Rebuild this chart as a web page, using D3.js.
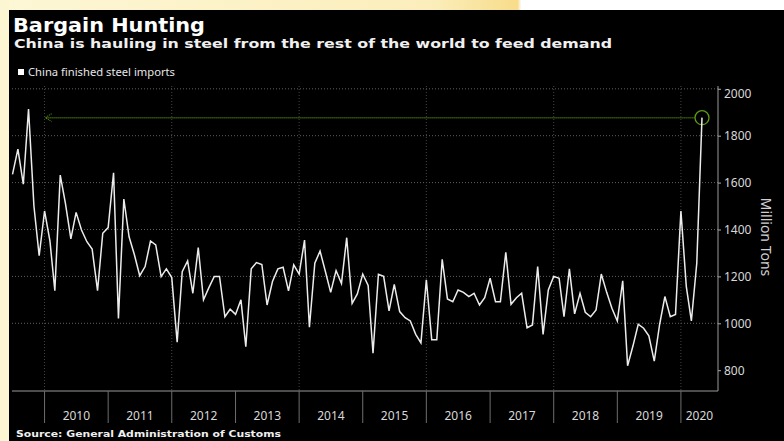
<!DOCTYPE html>
<html>
<head>
<meta charset="utf-8">
<script src="https://cdn.jsdelivr.net/npm/d3@7"></script>
<style>
  html, body { margin: 0; padding: 0; background: #fff; }
  svg { display: block; }
</style>
</head>
<body>
<div id="chart"></div>
<script>
// monthly imports, Jul 2009 .. May 2020 (axis says "Million Tons" as on the original)
const startMonth = new Date(2009, 6, 1);
const imports = [
  1635, 1743, 1593, 1914, 1500, 1288,
  1479, 1350, 1139, 1632, 1510, 1360, 1473, 1398, 1348, 1317, 1139, 1384,
  1408, 1642, 1021, 1530, 1369, 1291, 1203, 1242, 1351, 1334, 1199, 1232,
  1195, 919, 1220, 1266, 1128, 1323, 1100, 1152, 1200, 1200, 1028, 1060,
  1038, 1100, 900, 1232, 1259, 1251, 1078, 1178, 1232, 1239, 1138, 1249,
  1210, 1355, 983, 1256, 1308, 1220, 1132, 1225, 1170, 1365, 1085, 1125,
  1210, 1161, 872, 1209, 1200, 1053, 1166, 1050, 1024, 1010, 953, 916,
  1185, 930, 930, 1273, 1104, 1092, 1142, 1132, 1114, 1128, 1078, 1109,
  1192, 1092, 1092, 1303, 1081, 1109, 1128, 981, 993, 1242, 953, 1142,
  1200, 1192, 1028, 1232, 1040, 1128, 1047, 1028, 1057, 1210, 1132, 1064,
  1010, 1181, 819, 904, 996, 979, 947, 839, 996, 1114, 1028, 1038,
  1479, 1156, 1010, 1256, 1877
];
const years = [2010, 2011, 2012, 2013, 2014, 2015, 2016, 2017, 2018, 2019, 2020];
const gridYears = [2010, 2012, 2014, 2016, 2018, 2020];
const yTicks = [800, 1000, 1200, 1400, 1600, 1800, 2000];
const yGrid = [1000, 1200, 1400, 1600, 1800, 2000];
const annotationFrom = new Date(2010, 0, 1);

const data = imports.map((v, i) => ({ date: d3.timeMonth.offset(startMonth, i), value: v }));

const W = 784, H = 441;
const svg = d3.select("#chart").append("svg")
  .attr("width", W)
  .attr("height", H);

// page bits around the cropped screenshot
const grad = svg.append("defs").append("linearGradient")
  .attr("id", "cream").attr("x1", 0).attr("x2", 1);
grad.append("stop").attr("offset", "0%").attr("stop-color", "#fdf7d6");
grad.append("stop").attr("offset", "55%").attr("stop-color", "#fbeebb");
grad.append("stop").attr("offset", "66%").attr("stop-color", "#f7dc8a");
grad.append("stop").attr("offset", "66.5%").attr("stop-color", "#ffffff");
grad.append("stop").attr("offset", "100%").attr("stop-color", "#ffffff");
svg.append("rect").attr("width", W).attr("height", H).attr("fill", "url(#cream)");
svg.append("rect").attr("x", 0).attr("y", 0).attr("width", 9).attr("height", H).attr("fill", "#fdf6d2");

svg.append("rect")
  .attr("x", 9).attr("y", 10)
  .attr("width", W - 9).attr("height", H - 10)
  .attr("fill", "#000");

const x = d3.scaleTime()
  .domain([startMonth, new Date(2020, 4, 1)])
  .range([12.5, 702]);
const y = d3.scaleLinear()
  .domain([800, 2000])
  .range([370.2, 88.8]);

const plotLeft = 12, plotRight = 718, plotTop = 86, plotBottom = 391;

// title block
svg.append("text")
  .attr("x", 13).attr("y", 32)
  .attr("fill", "#fff")
  .attr("font-family", "DejaVu Sans")
  .attr("font-weight", "bold")
  .attr("font-size", 19)
  .attr("textLength", 192).attr("lengthAdjust", "spacingAndGlyphs")
  .text("Bargain Hunting");
svg.append("text")
  .attr("x", 14).attr("y", 48)
  .attr("fill", "#f0f0f0")
  .attr("font-family", "DejaVu Sans")
  .attr("font-weight", "bold")
  .attr("font-size", 13)
  .attr("textLength", 598).attr("lengthAdjust", "spacingAndGlyphs")
  .text("China is hauling in steel from the rest of the world to feed demand");

// legend
svg.append("rect").attr("x", 18).attr("y", 69).attr("width", 6).attr("height", 6).attr("fill", "#fff");
svg.append("text")
  .attr("x", 28).attr("y", 76)
  .attr("fill", "#e6e6e6")
  .attr("font-family", "Noto Sans")
  .attr("font-size", 10)
  .attr("textLength", 147).attr("lengthAdjust", "spacingAndGlyphs")
  .text("China finished steel imports");

// grid
svg.append("g")
  .selectAll("line")
  .data(yGrid)
  .join("line")
  .attr("x1", plotLeft).attr("x2", plotRight)
  .attr("y1", d => y(d)).attr("y2", d => y(d))
  .attr("stroke", "#5e5e5e")
  .attr("stroke-width", 1)
  .attr("stroke-dasharray", "1,2");

svg.append("g")
  .selectAll("line")
  .data(gridYears)
  .join("line")
  .attr("x1", d => x(new Date(d, 0, 1))).attr("x2", d => x(new Date(d, 0, 1)))
  .attr("y1", plotTop).attr("y2", plotBottom)
  .attr("stroke", "#444")
  .attr("stroke-width", 1)
  .attr("stroke-dasharray", "1,2");

// right axis
const yAxis = svg.append("g")
  .attr("transform", `translate(${plotRight},0)`)
  .call(d3.axisRight(y).tickValues(yTicks).tickSize(3).tickPadding(3).tickFormat(d3.format("d")));
yAxis.select(".domain").remove();
yAxis.selectAll("line").attr("stroke", "#aaa");
yAxis.selectAll("text")
  .attr("fill", "#d8d8d8")
  .attr("font-family", "Noto Sans")
  .attr("font-size", 12);
yAxis.selectAll(".tick").filter(d => d === 2000).select("text").attr("dy", "0.75em");
svg.append("line")
  .attr("x1", plotRight).attr("x2", plotRight)
  .attr("y1", plotTop).attr("y2", plotBottom)
  .attr("stroke", "#9a9a9a");

svg.append("text")
  .attr("transform", `translate(761,237) rotate(90)`)
  .attr("text-anchor", "middle")
  .attr("fill", "#d0d0d0")
  .attr("font-family", "Noto Sans")
  .attr("font-size", 14)
  .text("Million Tons");

// bottom axis: year separators and centered labels
svg.append("line")
  .attr("x1", plotLeft).attr("x2", plotRight)
  .attr("y1", plotBottom).attr("y2", plotBottom)
  .attr("stroke", "#9a9a9a");

svg.append("g")
  .selectAll("line")
  .data(years)
  .join("line")
  .attr("x1", d => x(new Date(d, 0, 1))).attr("x2", d => x(new Date(d, 0, 1)))
  .attr("y1", plotBottom).attr("y2", 423)
  .attr("stroke", "#6e6e6e");

svg.append("g")
  .selectAll("text")
  .data(years)
  .join("text")
  .attr("x", d => {
    const a = x(new Date(d, 0, 1));
    const b = Math.min(plotRight, x(new Date(d + 1, 0, 1)));
    return (a + b) / 2;
  })
  .attr("y", 420)
  .attr("text-anchor", "middle")
  .attr("fill", "#d8d8d8")
  .attr("font-family", "Noto Sans")
  .attr("font-size", 12)
  .text(d => d);

svg.append("text")
  .attr("x", 16).attr("y", 437)
  .attr("fill", "#f0f0f0")
  .attr("font-family", "DejaVu Sans")
  .attr("font-weight", "bold")
  .attr("font-size", 9.5)
  .attr("textLength", 265).attr("lengthAdjust", "spacingAndGlyphs")
  .text("Source: General Administration of Customs");

// annotation: back to the 2009 high
const last = data[data.length - 1];
const ay = y(last.value);
const g = svg.append("g");
g.append("line")
  .attr("x1", x(annotationFrom) + 1).attr("x2", x(last.date) - 7)
  .attr("y1", ay).attr("y2", ay)
  .attr("stroke", "#4f8a0c")
  .attr("stroke-width", 1.5)
  .attr("stroke-dasharray", "1,1");
g.append("path")
  .attr("d", `M${x(annotationFrom) + 7},${ay - 4} L${x(annotationFrom) + 1},${ay} L${x(annotationFrom) + 7},${ay + 4}`)
  .attr("fill", "none")
  .attr("stroke", "#4f8a0c")
  .attr("stroke-width", 1.2)
  .attr("stroke-dasharray", "1,1");

// series
svg.append("path")
  .datum(data)
  .attr("fill", "none")
  .attr("stroke", "#ececec")
  .attr("stroke-width", 1.5)
  .attr("stroke-linejoin", "miter")
  .attr("d", d3.line().x(d => x(d.date)).y(d => y(d.value)));

g.append("circle")
  .attr("cx", x(last.date)).attr("cy", ay)
  .attr("r", 7)
  .attr("fill", "none")
  .attr("stroke", "#5f9a14")
  .attr("stroke-width", 1.3);
</script>
</body>
</html>
